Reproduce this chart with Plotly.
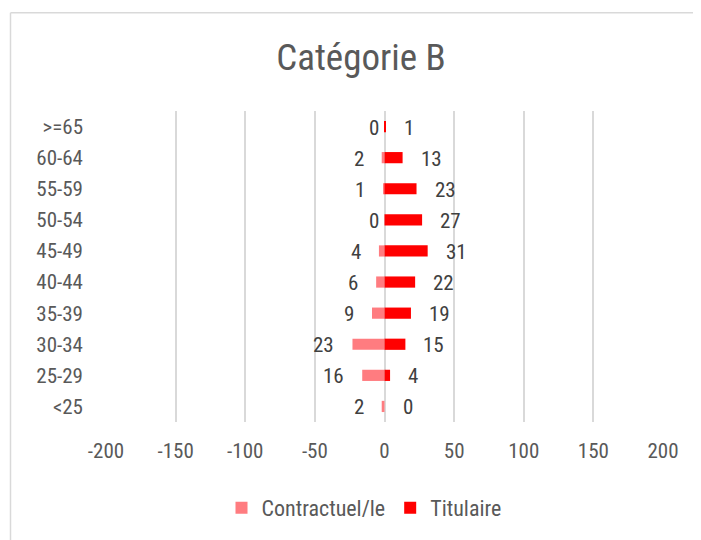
import plotly.graph_objects as go

categories = ["<25", "25-29", "30-34", "35-39", "40-44", "45-49", "50-54", "55-59", "60-64", ">=65"]
contractuel = [2, 16, 23, 9, 6, 4, 0, 1, 2, 0]
titulaire = [0, 4, 15, 19, 22, 31, 27, 23, 13, 1]
x_ticks = [-200, -150, -100, -50, 0, 50, 100, 150, 200]
x_ticktext = ["-200", "-150", "-100", "-50", "0", "50", "100", "150", "200"]

FONT = "Liberation Sans Narrow, Roboto Condensed, Lato, sans-serif"
GREY = "#595959"
LBL = "#404040"

# page body has an 8px margin: figure is sized/offset to compensate
W, H = 693, 532
L, R, T, B = 98, 38, 103, 117
PW = W - L - R
PH = H - T - B

fig = go.Figure()
fig.add_trace(go.Bar(
    y=categories, x=[-v for v in contractuel], orientation="h",
    name="Contractuel/le", marker=dict(color="#ff7c80", line=dict(width=0)),
    width=0.36, hoverinfo="skip",
))
fig.add_trace(go.Bar(
    y=categories, x=titulaire, orientation="h",
    name="Titulaire", marker=dict(color="#ff0000", line=dict(width=0)),
    width=0.36, hoverinfo="skip",
))

annotations = []
for c, v in zip(categories, contractuel):
    annotations.append(dict(
        x=-v, y=c, xref="x", yref="y", text=str(v), showarrow=False,
        xanchor="right", yanchor="middle", xshift=(-4 if v == 0 else -16), yshift=-1,
        font=dict(family=FONT, size=21, color=LBL),
    ))
for c, v in zip(categories, titulaire):
    annotations.append(dict(
        x=v, y=c, xref="x", yref="y", text=str(v), showarrow=False,
        xanchor="left", yanchor="middle", xshift=16, yshift=-1,
        font=dict(family=FONT, size=21, color=LBL),
    ))

bx = (10.5 - 8 - L) / PW
by = (H - B - (12.5 - 8)) / PH

fig.update_layout(
    width=W, height=H,
    margin=dict(l=L, r=R, t=T, b=B),
    paper_bgcolor="white", plot_bgcolor="white",
    barmode="overlay",
    font=dict(family=FONT, size=21, color=GREY),
    title=dict(text="Catégorie B", x=(361 - 8) / W, xanchor="center",
               y=1 - (57 - 8) / H, yanchor="middle",
               font=dict(family=FONT, size=37, color=GREY)),
    showlegend=True,
    legend=dict(orientation="h", x=(364 - 8 - L) / PW, xanchor="center",
                y=(H - B - (508 - 8)) / PH, yanchor="middle",
                font=dict(family=FONT, size=22, color=GREY), itemwidth=30,
                traceorder="normal"),
    annotations=annotations,
    shapes=[
        dict(type="line", xref="paper", yref="paper", x0=bx, x1=1.3, y0=by, y1=by,
             line=dict(color="#d9d9d9", width=1.5)),
        dict(type="line", xref="paper", yref="paper", x0=bx, x1=bx, y0=-0.6, y1=by,
             line=dict(color="#d9d9d9", width=1.5)),
    ],
)
fig.update_xaxes(
    range=[-200, 200], tickvals=x_ticks, ticktext=x_ticktext,
    showgrid=True, gridcolor="#d9d9d9", gridwidth=1.5,
    zeroline=True, zerolinecolor="#d9d9d9", zerolinewidth=1.5,
    showline=False, ticks="", ticklabelstandoff=14,
    tickfont=dict(family=FONT, size=21, color=GREY),
)
fig.update_yaxes(
    categoryorder="array", categoryarray=categories,
    showgrid=False, zeroline=False, showline=False, ticks="",
    ticklabelstandoff=22,
    tickfont=dict(family=FONT, size=21, color=GREY),
)

fig.write_html("out.html")
